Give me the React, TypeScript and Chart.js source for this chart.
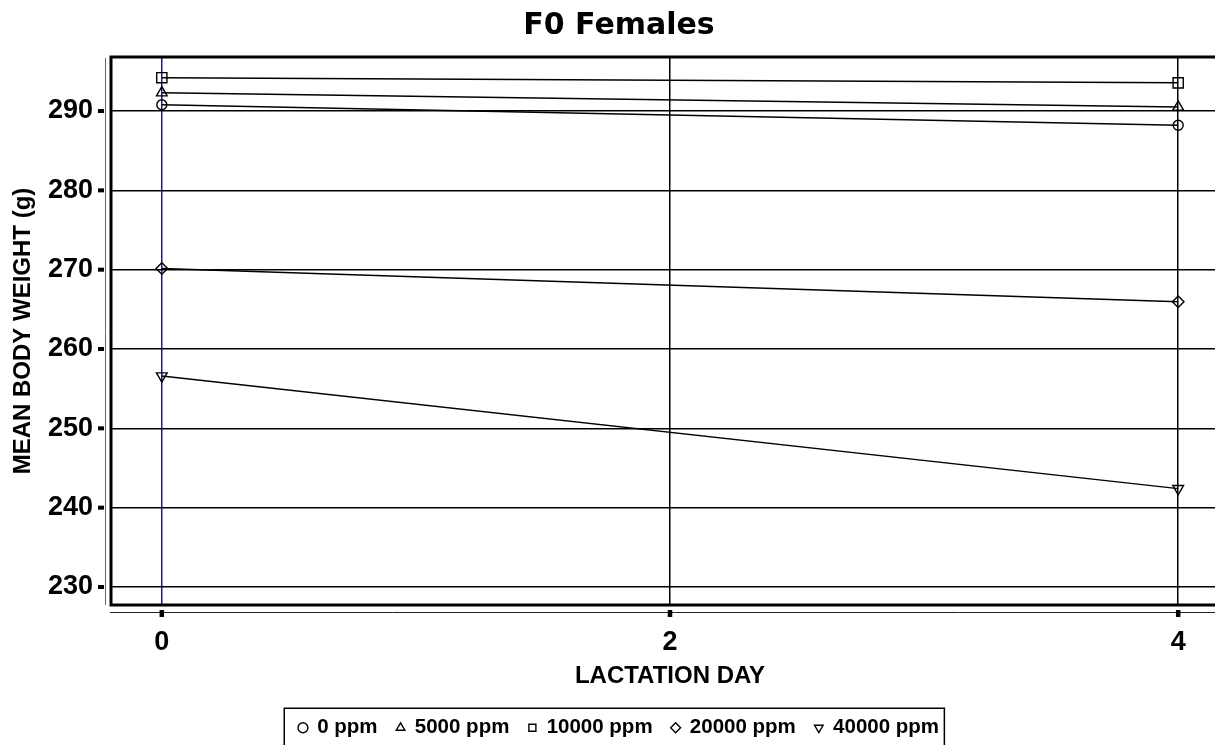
import React, { useEffect, useRef } from "react";
import { Chart, registerables } from "chart.js";

Chart.register(...registerables);

// ---- data ----
const lactationDays = [0, 4];
const xTickValues = [0, 2, 4];
const yTickValues = [230, 240, 250, 260, 270, 280, 290];
const seriesLabels = ["0 ppm", "5000 ppm", "10000 ppm", "20000 ppm", "40000 ppm"];
const ppm0 = [290.8, 288.2];
const ppm5000 = [292.3, 290.5];
const ppm10000 = [294.2, 293.55];
const ppm20000 = [270.15, 265.95];
const ppm40000 = [256.6, 242.4];
const pointStyles = ["circle", "triangle", "rect", "rectRot", "triangle"];
const pointRotations = [0, 0, 0, 0, 180];
const pointRadii = [5, 6.2, 7.2, 5.8, 6.2];

const seriesValues = [ppm0, ppm5000, ppm10000, ppm20000, ppm40000];

const ARIAL = "'Liberation Sans', Arial, Helvetica, sans-serif";

const framePlugin = {
  id: "frame",
  afterDraw(chart: any) {
    const { ctx, chartArea: ca, scales } = chart;
    const xs = scales.x;
    const ys = scales.y;
    ctx.save();
    // thick frame (left, top, bottom)
    ctx.strokeStyle = "#000";
    ctx.lineWidth = 3;
    ctx.beginPath();
    ctx.moveTo(ca.right + 30, ca.top);
    ctx.lineTo(ca.left, ca.top);
    ctx.lineTo(ca.left, ca.bottom);
    ctx.lineTo(ca.right + 30, ca.bottom);
    ctx.stroke();
    // offset axis lines
    ctx.lineWidth = 1;
    ctx.strokeStyle = "#666";
    ctx.beginPath();
    ctx.moveTo(ca.left - 5.5, ca.top + 1);
    ctx.lineTo(ca.left - 5.5, ca.bottom);
    ctx.stroke();
    ctx.strokeStyle = "#222";
    ctx.beginPath();
    ctx.moveTo(ca.left - 1, ca.bottom + 7.5);
    ctx.lineTo(ca.right + 30, ca.bottom + 7.5);
    ctx.stroke();
    // tick marks
    ctx.fillStyle = "#000";
    yTickValues.forEach((v) => {
      const py = ys.getPixelForValue(v);
      ctx.fillRect(ca.left - 13, py - 2, 6, 4);
    });
    xTickValues.forEach((v) => {
      const px = xs.getPixelForValue(v);
      ctx.fillRect(px - 2.25, ca.bottom + 5, 4.5, 7);
    });
    // legend border
    const lg = chart.legend;
    if (lg && lg.legendHitBoxes && lg.legendHitBoxes.length) {
      const hb = lg.legendHitBoxes;
      const last = hb[hb.length - 1];
      const l = hb[0].left - 15;
      const r = last.left + last.width + 5;
      const t = lg.top + 9.5;
      ctx.strokeStyle = "#000";
      ctx.lineWidth = 1.5;
      ctx.strokeRect(Math.round(l) + 0.25, Math.round(t) + 0.25, r - l, 100);
    }
    ctx.restore();
  },
};

export default function App() {
  const canvasRef = useRef<HTMLCanvasElement | null>(null);

  useEffect(() => {
    if (!canvasRef.current) return;
    const datasets = seriesLabels.map((label, i) => ({
      label,
      data: lactationDays.map((d, j) => ({ x: d, y: seriesValues[i][j] })),
      borderColor: "#000",
      borderWidth: 1.5,
      backgroundColor: "rgba(0,0,0,0)",
      pointStyle: pointStyles[i],
      pointRotation: pointRotations[i],
      pointRadius: pointRadii[i],
      pointBorderColor: "#000",
      pointBackgroundColor: "rgba(0,0,0,0)",
      pointBorderWidth: 1.4,
      tension: 0,
      fill: false,
    }));

    const chart = new Chart(canvasRef.current, {
      type: "line",
      data: { datasets },
      options: {
        animation: false,
        responsive: false,
        devicePixelRatio: 1,
        layout: { padding: { left: 9, right: 11, top: 0, bottom: 0 } },
        plugins: {
          title: {
            display: true,
            text: "F0 Females",
            color: "#000",
            font: { family: "'DejaVu Sans', Verdana, sans-serif", size: 30, weight: "bold", lineHeight: 1.2 },
            padding: { top: 8, bottom: 13 },
          },
          legend: {
            display: true,
            position: "bottom",
            align: "center",
            labels: {
              usePointStyle: true,
              boxWidth: 8,
              boxHeight: 7,
              padding: 19,
              color: "#000",
              font: { family: ARIAL, size: 20.5, weight: "bold" },
            },
          },
          tooltip: { enabled: false },
        },
        scales: {
          x: {
            type: "linear",
            min: -0.2,
            max: 4.2,
            afterBuildTicks: (s: any) => {
              s.ticks = xTickValues.map((v) => ({ value: v }));
            },
            afterFit: (s: any) => {
              s.height = 93.5;
            },
            border: { display: false },
            grid: {
              drawTicks: false,
              lineWidth: 1.5,
              color: (c: any) => (c.tick && c.tick.value === 0 ? "#1f1f7a" : "#000"),
            },
            ticks: {
              padding: 21,
              color: "#000",
              font: { family: ARIAL, size: 27, weight: "bold", lineHeight: 1.2 },
            },
            title: {
              display: true,
              text: "LACTATION DAY",
              color: "#000",
              font: { family: ARIAL, size: 24, weight: "bold", lineHeight: 1.2 },
              padding: { top: 0, bottom: 7.6 },
            },
          },
          y: {
            type: "linear",
            min: 227.73,
            max: 296.81,
            afterBuildTicks: (s: any) => {
              s.ticks = yTickValues.map((v) => ({ value: v }));
            },
            afterFit: (s: any) => {
              s.width = 102;
            },
            border: { display: false },
            grid: { drawTicks: false, lineWidth: 1.5, color: "#000" },
            ticks: {
              padding: 18,
              color: "#000",
              font: { family: ARIAL, size: 27, weight: "bold", lineHeight: 1.2 },
            },
            title: {
              display: true,
              text: "MEAN BODY WEIGHT (g)",
              color: "#000",
              font: { family: ARIAL, size: 24, weight: "bold", lineHeight: 1.2 },
              padding: { top: 0, bottom: 0 },
            },
          },
        },
      },
      plugins: [framePlugin],
    } as any);

    return () => chart.destroy();
  }, []);

  return (
    <div
      style={{
        position: "fixed",
        left: 0,
        top: 0,
        width: 1215,
        height: 745,
        overflow: "hidden",
        background: "#fff",
      }}
    >
      <canvas ref={canvasRef} width={1240} height={748} style={{ display: "block", width: 1240, height: 748 }} />
    </div>
  );
}
